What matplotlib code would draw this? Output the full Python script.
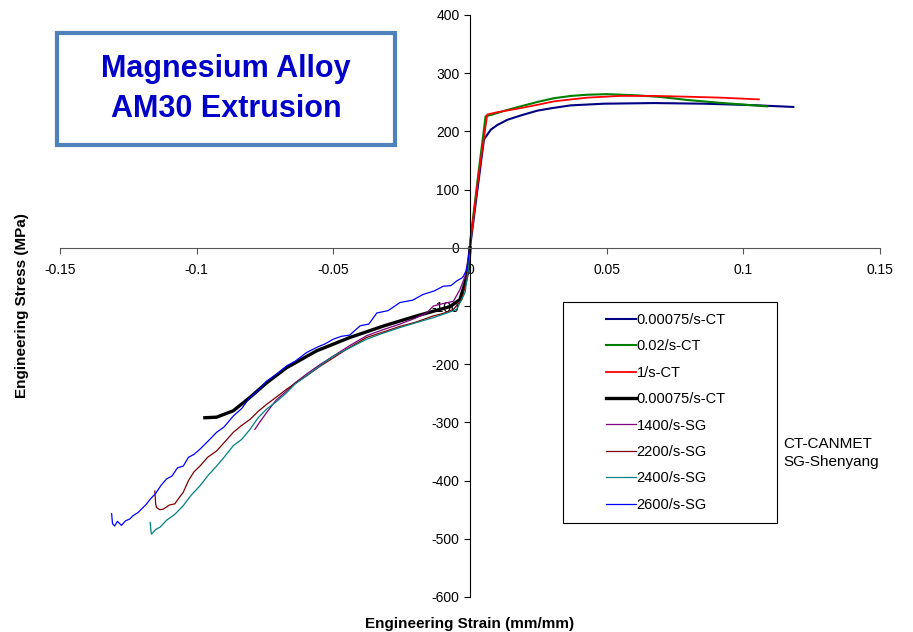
import matplotlib
matplotlib.use('Agg')
import matplotlib.pyplot as plt
from matplotlib.patches import Rectangle
from matplotlib.legend_handler import HandlerLine2D
from matplotlib.lines import Line2D

plt.rcParams['font.family'] = ['Liberation Sans', 'DejaVu Sans']
plt.rcParams['axes.unicode_minus'] = False

# tension, CANMET
strain_t1 = [0, 0.0025, 0.0051, 0.0076, 0.0100, 0.0137, 0.0190, 0.0246, 0.0300, 0.0368,
             0.0490, 0.0673, 0.0856, 0.1040, 0.1183]
stress_t1 = [0, 92, 186, 203, 211, 220, 228, 235.6, 240, 244.7, 247.6, 248.7, 247.6, 245, 242]
strain_t2 = [0, 0.003, 0.0057, 0.0082, 0.0130, 0.0185, 0.0250, 0.0307, 0.0370, 0.0429,
             0.0500, 0.0610, 0.0700, 0.0795, 0.0917, 0.1088]
stress_t2 = [8, 125, 226, 229, 236, 243, 251, 257, 261, 263, 264, 262, 259, 254, 249, 243]
strain_t3 = [0, 0.003, 0.0063, 0.0100, 0.0185, 0.0250, 0.0307, 0.0370, 0.0429, 0.0550,
             0.0670, 0.0795, 0.0917, 0.1057]
stress_t3 = [5, 120, 229, 233, 240, 246, 251.6, 255, 258, 261, 261, 259.6, 258, 255]

# compression, CANMET quasi-static
strain_c1 = [-0.0970, -0.0927, -0.0866, -0.0805, -0.0744, -0.0671, -0.0561, -0.0439,
             -0.0317, -0.0195, -0.0073, -0.0037, -0.0018, -0.0006, 0.0]
stress_c1 = [-292, -291, -280, -257, -232, -206, -177, -154, -134.5, -117, -101, -89, -60, -37, 0]

# compression, Shenyang split Hopkinson bar
strain_1400 = [-0.0787, -0.0770, -0.0744, -0.0710, -0.0671, -0.0640, -0.0598, -0.0550, -0.0500,
               -0.0440, -0.0378, -0.0320, -0.0256, -0.0200, -0.0159, -0.0134, -0.0100, -0.0061,
               -0.0037, -0.0018, 0.0]
stress_1400 = [-312, -300, -283, -262, -246, -232, -217, -201, -186, -168, -151, -141, -131,
               -121, -112, -100, -96, -92, -72, -49, 0]

strain_2200 = [-0.1153, -0.1150, -0.1147, -0.1135, -0.1122, -0.1100, -0.1080, -0.1065, -0.1049,
               -0.1030, -0.1010, -0.0988, -0.0960, -0.0927, -0.0900, -0.0866, -0.0835, -0.0805,
               -0.0775, -0.0744, -0.0710, -0.0671, -0.0640, -0.0598, -0.0550, -0.0500, -0.0440,
               -0.0378, -0.0320, -0.0256, -0.0200, -0.0134, -0.0100, -0.0061, -0.0030, -0.0012, 0.0]
stress_2200 = [-418, -440, -446, -450, -449, -442, -440, -430, -420, -400, -385, -375, -360,
               -349, -335, -317, -305, -295, -281, -269, -257, -243, -233, -220, -204, -189,
               -171, -154, -145, -135, -128, -117, -113, -106, -89, -54, 0]

strain_2400 = [-0.1170, -0.1167, -0.1165, -0.1150, -0.1134, -0.1110, -0.1080, -0.1049, -0.1020,
               -0.0988, -0.0960, -0.0927, -0.0900, -0.0866, -0.0835, -0.0805, -0.0775, -0.0744,
               -0.0710, -0.0671, -0.0640, -0.0598, -0.0550, -0.0500, -0.0440, -0.0378, -0.0320,
               -0.0256, -0.0200, -0.0134, -0.0090, -0.0049, -0.0018, -0.0006, 0.0]
stress_2400 = [-472, -488, -492, -484, -480, -468, -458, -443, -425, -409, -392, -375, -360,
               -340, -329, -312, -292, -277, -265, -249, -234, -220, -203, -186, -172, -157,
               -147, -137, -129, -120, -113, -106, -77, -37, 0]

strain_2600 = [-0.1311, -0.1308, -0.1300, -0.1290, -0.1275, -0.1260, -0.1245, -0.1232, -0.1215,
               -0.1200, -0.1185, -0.1170, -0.1150, -0.1130, -0.1110, -0.1090, -0.1070, -0.1049,
               -0.1030, -0.1010, -0.0988, -0.0960, -0.0927, -0.0900, -0.0866, -0.0835, -0.0805,
               -0.0775, -0.0744, -0.0710, -0.0671, -0.0640, -0.0598, -0.0560, -0.0530, -0.0500,
               -0.0470, -0.0440, -0.0402, -0.0370, -0.0341, -0.0300, -0.0256, -0.0210, -0.0171,
               -0.0130, -0.0098, -0.0070, -0.0049, -0.0030, -0.0024, -0.0012, 0.0]
stress_2600 = [-457, -474, -478, -470, -477, -469, -466, -460, -455, -448, -441, -432, -422,
               -408, -397, -392, -378, -375, -360, -355, -346, -333, -317, -308, -289, -276,
               -257, -245, -229, -218, -203, -195, -180, -171, -165, -157, -152, -150, -134,
               -131, -112, -108, -94, -90, -80, -74, -66, -65, -57, -52, -49, -37, 0]

series = [
    (strain_t1, stress_t1, '0.00075/s-CT', '#000080', 1.5),
    (strain_t2, stress_t2, '0.02/s-CT', '#008000', 1.5),
    (strain_t3, stress_t3, '1/s-CT', '#FF0000', 1.3),
    (strain_c1, stress_c1, '0.00075/s-CT', 'black', 2.4),
    (strain_1400, stress_1400, '1400/s-SG', '#800080', 0.9),
    (strain_2200, stress_2200, '2200/s-SG', '#800000', 0.9),
    (strain_2400, stress_2400, '2400/s-SG', '#008080', 0.9),
    (strain_2600, stress_2600, '2600/s-SG', '#0000FF', 0.9),
]

W, H = 913, 632
fig = plt.figure(figsize=(W / 100, H / 100), dpi=100)
ax = fig.add_axes([60 / W, 1 - 597 / H, 820 / W, 582 / H])

for x, y, lab, c, lw in series:
    ax.plot(x, y, color=c, lw=lw, label=lab)

ax.set_xlim(-0.15, 0.15)
ax.set_ylim(-600, 400)
ax.set_xticks([-0.15, -0.1, -0.05, 0, 0.05, 0.1, 0.15])
ax.set_xticklabels(['-0.15', '-0.1', '-0.05', '0', '0.05', '0.1', '0.15'])
ax.set_yticks(range(-600, 401, 100))
ax.spines['left'].set_position(('data', 0))
ax.spines['bottom'].set_position(('data', 0))
ax.spines['right'].set_visible(False)
ax.spines['top'].set_visible(False)
ax.spines['bottom'].set_color('#555555')
ax.tick_params(axis='both', labelsize=10, length=4, direction='out', width=0.8)
ax.tick_params(axis='x', colors='#555555', labelcolor='black', pad=7)
ax.patch.set_visible(False)

# legend: Excel style, wide frame with the line samples indented
leg_fs = 10.5
leg = ax.legend(loc='upper left', bbox_to_anchor=(563 / W, 1 - 532 / H, 214 / W, 230 / H),
                bbox_transform=fig.transFigure, mode='expand', borderaxespad=0,
                fontsize=leg_fs, frameon=True, fancybox=False, framealpha=1,
                edgecolor='black', handlelength=4.25, labelspacing=0.85,
                borderpad=0.75, handletextpad=0.05,
                handler_map={Line2D: HandlerLine2D(xpad=2.2)})
leg.get_frame().set_linewidth(0.8)

fig.text(470 / W, 1 - 624 / H, 'Engineering Strain (mm/mm)', ha='center', va='center',
         fontsize=11, fontweight='bold')
fig.text(22 / W, 1 - 306 / H, 'Engineering Stress (MPa)', ha='center', va='center',
         rotation=90, fontsize=11, fontweight='bold')
fig.text(783 / W, 1 - 453 / H, 'CT-CANMET\nSG-Shenyang', ha='left', va='center',
         fontsize=11, linespacing=1.3)

fig.patches.append(Rectangle((57 / W, 1 - 145 / H), 338 / W, 112 / H,
                             transform=fig.transFigure, fill=False,
                             edgecolor='#4F81BD', lw=3))
fig.text(226 / W, 1 - 89 / H, 'Magnesium Alloy\nAM30 Extrusion', ha='center', va='center',
         fontsize=22, fontweight='bold', color='#0000C8', linespacing=1.45)

fig.savefig('out.png', dpi=100)
